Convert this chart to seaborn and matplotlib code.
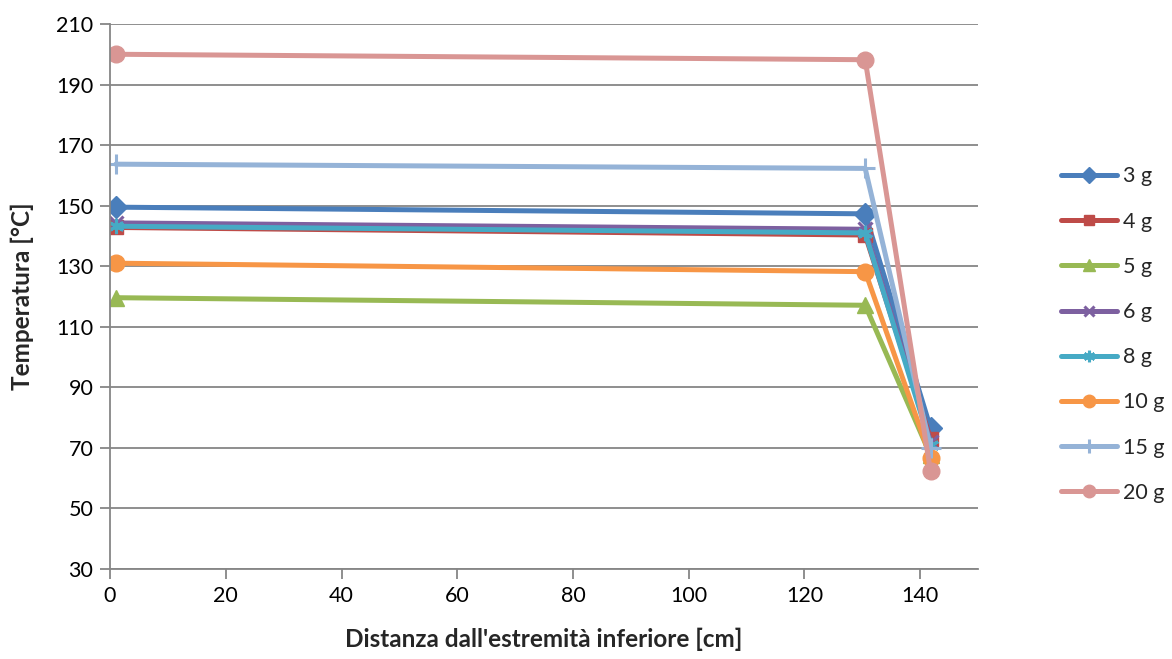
import matplotlib
matplotlib.use("Agg")
import matplotlib.pyplot as plt
import seaborn as sns
import pandas as pd

# ---- data ----
positions = [1, 130.5, 141.8]
labels = ["3 g", "4 g", "5 g", "6 g", "8 g", "10 g", "15 g", "20 g"]
t_3g = [149.5, 147.3, 76.5]
t_4g = [142.8, 140.3, 73.0]
t_5g = [119.6, 117.1, 67.5]
t_6g = [144.3, 142.2, 72.0]
t_8g = [143.2, 141.0, 71.0]
t_10g = [131.0, 128.2, 66.8]
t_15g = [163.7, 162.3, 70.0]
t_20g = [200.0, 198.2, 62.2]
series = [t_3g, t_4g, t_5g, t_6g, t_8g, t_10g, t_15g, t_20g]
x_ticks = [0, 20, 40, 60, 80, 100, 120, 140]
y_ticks = [30, 50, 70, 90, 110, 130, 150, 170, 190, 210]

colors = ["#4A7EBB", "#BE4B48", "#98B954", "#7D60A0", "#46AAC5", "#F79646", "#95B3D7", "#D99694"]
markers = ["D", "s", "^", "x", (6, 2, 0), "o", "+", "o"]
msizes = [11, 10, 11, 10, 11, 12, 14, 12]

sns.set_theme(style="white")
plt.rcParams["font.family"] = ["Lato", "DejaVu Sans"]

fig = plt.figure(figsize=(11.72, 6.59), dpi=100)
ax = fig.add_axes([0.0939, 0.1366, 0.7406, 0.827])

for lab, vals, c, m, ms in zip(labels, series, colors, markers, msizes):
    df = pd.DataFrame({"x": positions, "y": vals})
    sns.lineplot(data=df, x="x", y="y", ax=ax, color=c, marker=m, markersize=ms,
                 linewidth=3.6, markeredgecolor=c,
                 markeredgewidth=2.2 if (m in ("x", "+") or isinstance(m, tuple)) else 1,
                 label=lab, sort=False)

ax.set_xlim(0, 150)
ax.set_ylim(30, 210)
ax.set_xticks(x_ticks)
ax.set_yticks(y_ticks)
ax.grid(axis="y", color="#868686", linewidth=1.3)
ax.grid(axis="x", visible=False)
ax.set_axisbelow(True)
for s in ["top", "right"]:
    ax.spines[s].set_visible(False)
for s in ["left", "bottom"]:
    ax.spines[s].set_color("#868686")
    ax.spines[s].set_linewidth(1.3)
ax.tick_params(axis="both", which="major", direction="out", length=7, width=1.3,
               color="#868686", labelsize=15.5, labelcolor="black", left=True, bottom=True, pad=5)
ax.set_xlabel("Distanza dall'estremità inferiore [cm]", fontsize=17.5, fontweight="bold", labelpad=16)
ax.set_ylabel("Temperatura [°C]", fontsize=17.5, fontweight="bold", labelpad=16)

leg = ax.legend(loc="center left", bbox_to_anchor=(1.086, 0.43), frameon=False,
                fontsize=15.5, handlelength=2.6, handletextpad=0.25, labelspacing=1.17,
                borderaxespad=0, markerscale=0.75)

fig.savefig("out.png", dpi=100)
